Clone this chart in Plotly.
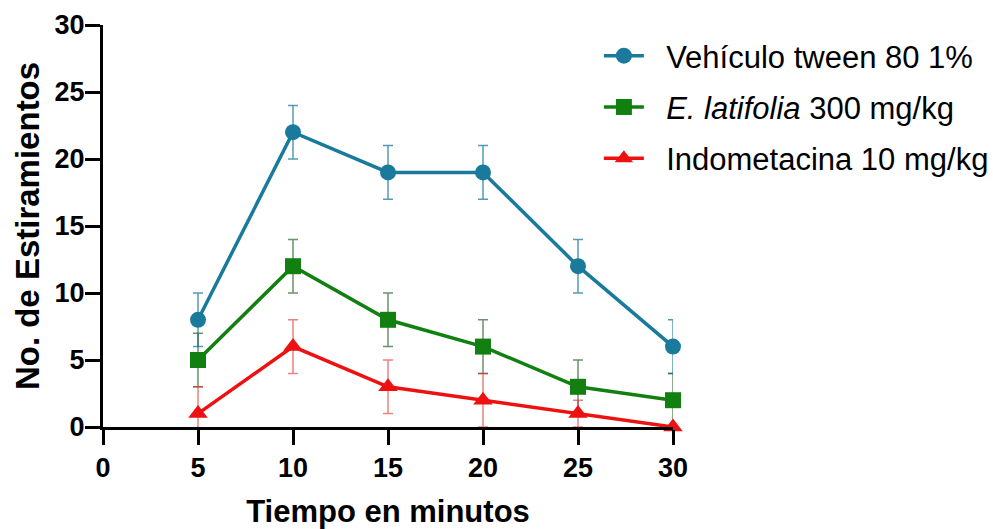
import plotly.graph_objects as go

minutes = [5, 10, 15, 20, 25, 30]

vehicle = [8, 22, 19, 19, 12, 6]
vehicle_err = [2, 2, 2, 2, 2, 2]

latifolia = [5, 12, 8, 6, 3, 2]
latifolia_err = [2, 2, 2, 2, 2, 2]

indometacina = [1, 6, 3, 2, 1, 0]
indometacina_err = [2, 2, 2, 2, 1, 0]

x_ticks = [0, 5, 10, 15, 20, 25, 30]
y_ticks = [0, 5, 10, 15, 20, 25, 30]

pad = "\u00a0\u00a0"
names = [pad + "Vehículo tween 80 1%", pad + "<i>E. latifolia</i> 300 mg/kg", pad + "Indometacina 10 mg/kg"]
colors = ["#1a7a9c", "#118011", "#ee1111"]
err_colors = ["rgba(26,122,156,0.75)", "rgba(40,100,40,0.7)", "rgba(230,40,40,0.6)"]
symbols = ["circle", "square", "triangle-up"]
sizes = [16, 16, 17]

fig = go.Figure()
for i, (vals, errs) in enumerate([(vehicle, vehicle_err), (latifolia, latifolia_err),
                                   (indometacina, indometacina_err)]):
    fig.add_trace(go.Scatter(
        x=minutes, y=vals, name=names[i], mode="lines+markers",
        legendgroup=f"g{i}",
        line=dict(color=colors[i], width=3.5),
        marker=dict(color=colors[i], symbol=symbols[i], size=sizes[i]),
        error_y=dict(type="data", array=errs, visible=True, color=err_colors[i],
                     thickness=1.5, width=5),
        cliponaxis=False,
    ))

fam = "Liberation Sans, Arial, sans-serif"
axis_font = dict(family=fam, size=27, color="black", weight="bold")

fig.update_layout(
    width=993, height=529,
    margin=dict(l=103, r=320, t=25, b=102, autoexpand=False),
    paper_bgcolor="white", plot_bgcolor="white",
    font=dict(family=fam, color="black"),
    legend=dict(
        x=0.870, y=0.99, xanchor="left", yanchor="top",
        font=dict(size=31, color="black"),
        tracegroupgap=8, itemwidth=40,
        bgcolor="rgba(0,0,0,0)",
    ),
    xaxis=dict(
        range=[0, 30], tickvals=x_ticks, ticktext=[str(v) for v in x_ticks],
        showgrid=False, zeroline=False, showline=True, linecolor="black", linewidth=3,
        ticks="outside", ticklen=15, tickwidth=3, tickcolor="black",
        tickfont=axis_font, automargin=False,
        title=dict(text="Tiempo en minutos", standoff=28,
                   font=dict(family=fam, size=31, color="black", weight="bold")),
    ),
    yaxis=dict(
        range=[0, 30], tickvals=y_ticks, ticktext=[str(v) for v in y_ticks],
        showgrid=False, zeroline=False, showline=True, linecolor="black", linewidth=3,
        ticks="outside", ticklen=15, tickwidth=3, tickcolor="black",
        tickfont=axis_font, automargin=False, ticklabelstandoff=-5,
        title=dict(text="No. de Estiramientos", standoff=6,
                   font=dict(family=fam, size=33, color="black", weight="bold")),
    ),
)

fig.write_html("out.html")
